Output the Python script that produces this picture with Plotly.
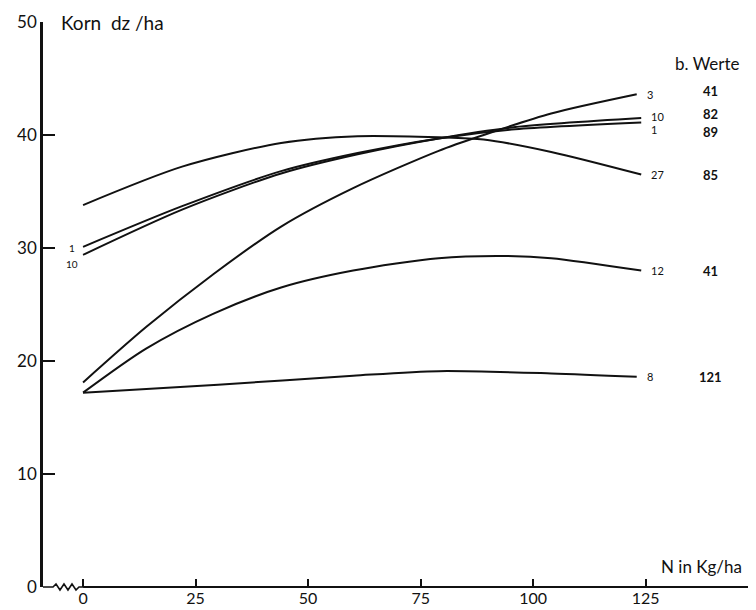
import plotly.graph_objects as go

# ---- data ----
labels = ["27", "10", "1", "3", "12", "8"]
b_werte = ["85", "82", "89", "41", "41", "121"]

x_27 = [0, 22, 44, 61, 79, 89, 104, 124]
y_27 = [33.8, 37.2, 39.3, 39.9, 39.8, 39.6, 38.5, 36.5]

x_1 = [0, 22, 44, 61, 79, 96, 124]
y_1 = [30.1, 33.7, 36.8, 38.4, 39.7, 40.5, 41.1]

x_10 = [0, 22, 44, 61, 79, 96, 124]
y_10 = [29.4, 33.4, 36.6, 38.3, 39.7, 40.7, 41.5]

x_3 = [0, 14, 29, 44, 60, 79, 89, 104, 123]
y_3 = [18.1, 23.0, 27.7, 31.9, 35.3, 38.6, 40.0, 41.9, 43.6]

x_12 = [0, 14, 29, 44, 60, 79, 93, 104, 124]
y_12 = [17.2, 21.1, 24.2, 26.5, 28.0, 29.1, 29.3, 29.1, 28.0]

x_8 = [0, 30, 60, 79, 104, 123]
y_8 = [17.2, 17.9, 18.7, 19.1, 18.9, 18.6]

x_ticks = [0, 25, 50, 75, 100, 125]
y_ticks = [0, 10, 20, 30, 40, 50]

series = {
    "27": (x_27, y_27),
    "10": (x_10, y_10),
    "1": (x_1, y_1),
    "3": (x_3, y_3),
    "12": (x_12, y_12),
    "8": (x_8, y_8),
}
# small vertical offsets (px) for the end labels
label_shift = {"27": 0, "10": 2, "1": -7, "3": 0, "12": 0, "8": 0}
value_shift = {"27": 0, "10": 4, "1": -9, "3": 3, "12": 0, "8": 0}

FONT = "Lato, DejaVu Sans, sans-serif"
INK = "#111111"

X_RANGE = [-8.9, 149.5]
PLOT_W, PLOT_H = 713, 565


def xdom(v):
    return (v - X_RANGE[0]) / (X_RANGE[1] - X_RANGE[0])


fig = go.Figure()
for lab in labels:
    xs, ys = series[lab]
    fig.add_trace(go.Scatter(x=xs, y=ys, mode="lines",
                             line=dict(color=INK, width=2, shape="spline", smoothing=0.8),
                             showlegend=False, hoverinfo="skip"))

annotations = []
for lab, bw in zip(labels, b_werte):
    xs, ys = series[lab]
    annotations.append(dict(x=xs[-1], y=ys[-1], xref="x", yref="y", text=lab,
                            xanchor="left", xshift=8, yshift=label_shift[lab],
                            showarrow=False, font=dict(family=FONT, size=11, color=INK)))
    annotations.append(dict(x=xs[-1], y=ys[-1], xref="x", yref="y", text="<b>" + bw + "</b>",
                            xanchor="center", xshift=710 - (83 + 4.5 * xs[-1]),
                            yshift=value_shift[lab], borderpad=0,
                            showarrow=False, font=dict(family=FONT, size=13, color=INK)))

# left labels near x = 0 for curves 1 and 10
annotations.append(dict(x=x_1[0], y=y_1[0], text="1", xanchor="right", xshift=-6, yshift=-1,
                        showarrow=False, font=dict(family=FONT, size=10, color=INK)))
annotations.append(dict(x=x_10[0], y=y_10[0], text="10", xanchor="right", xshift=-3, yshift=-9,
                        showarrow=False, font=dict(family=FONT, size=10, color=INK)))

annotations.append(dict(x=-5.4, y=50, text="Korn  dz /ha", xanchor="left", yanchor="middle",
                        showarrow=False, font=dict(family=FONT, size=19, color=INK)))
annotations.append(dict(x=128.0, y=1.8, text="N in Kg/ha", xanchor="left", yanchor="middle",
                        showarrow=False, font=dict(family=FONT, size=17, color=INK)))
annotations.append(dict(x=131.0, y=46.3, text="b. Werte", xanchor="left", yanchor="middle",
                        showarrow=False, font=dict(family=FONT, size=17, color=INK)))

# x-axis line with a break (zigzag) between the y axis and N = 0, in axis-domain units
px = 1.0 / PLOT_W
py = 1.0 / PLOT_H
x0 = xdom(0)
zig = [(0, 0), (10 * px, 0), (13 * px, 3 * py), (17 * px, -3 * py), (21 * px, 3 * py),
       (25 * px, -3 * py), (29 * px, 3 * py), (33 * px, -3 * py), (36 * px, 0), (x0, 0)]
zig_path = "M " + " L ".join(f"{a:.5f},{b:.5f}" for a, b in zig)

shapes = [
    dict(type="line", xref="x domain", yref="y domain", x0=x0, x1=1, y0=0, y1=0,
         line=dict(color=INK, width=2)),
    dict(type="path", xref="x domain", yref="y domain", path=zig_path,
         line=dict(color=INK, width=1.6)),
]

# the page adds an 8px body margin, so the figure is 8px smaller than the window
fig.update_layout(
    width=748, height=602,
    margin=dict(l=35, r=0, t=14, b=23, autoexpand=False),
    paper_bgcolor="white", plot_bgcolor="white",
    font=dict(family=FONT, size=17, color=INK),
    annotations=annotations, shapes=shapes,
    xaxis=dict(range=X_RANGE, tickvals=x_ticks, ticktext=[str(v) for v in x_ticks],
               ticks="inside", ticklen=8, tickwidth=2, tickcolor=INK,
               showline=False, showgrid=False, zeroline=False, automargin=False,
               tickfont=dict(family=FONT, size=16, color=INK)),
    yaxis=dict(range=[0, 50], tickvals=y_ticks, ticktext=[str(v) for v in y_ticks],
               ticks="inside", ticklen=12, tickwidth=2, tickcolor=INK,
               showline=True, linecolor=INK, linewidth=2.5, automargin=False,
               showgrid=False, zeroline=False,
               tickfont=dict(family=FONT, size=17, color=INK)),
)

fig.write_html("out.html")
